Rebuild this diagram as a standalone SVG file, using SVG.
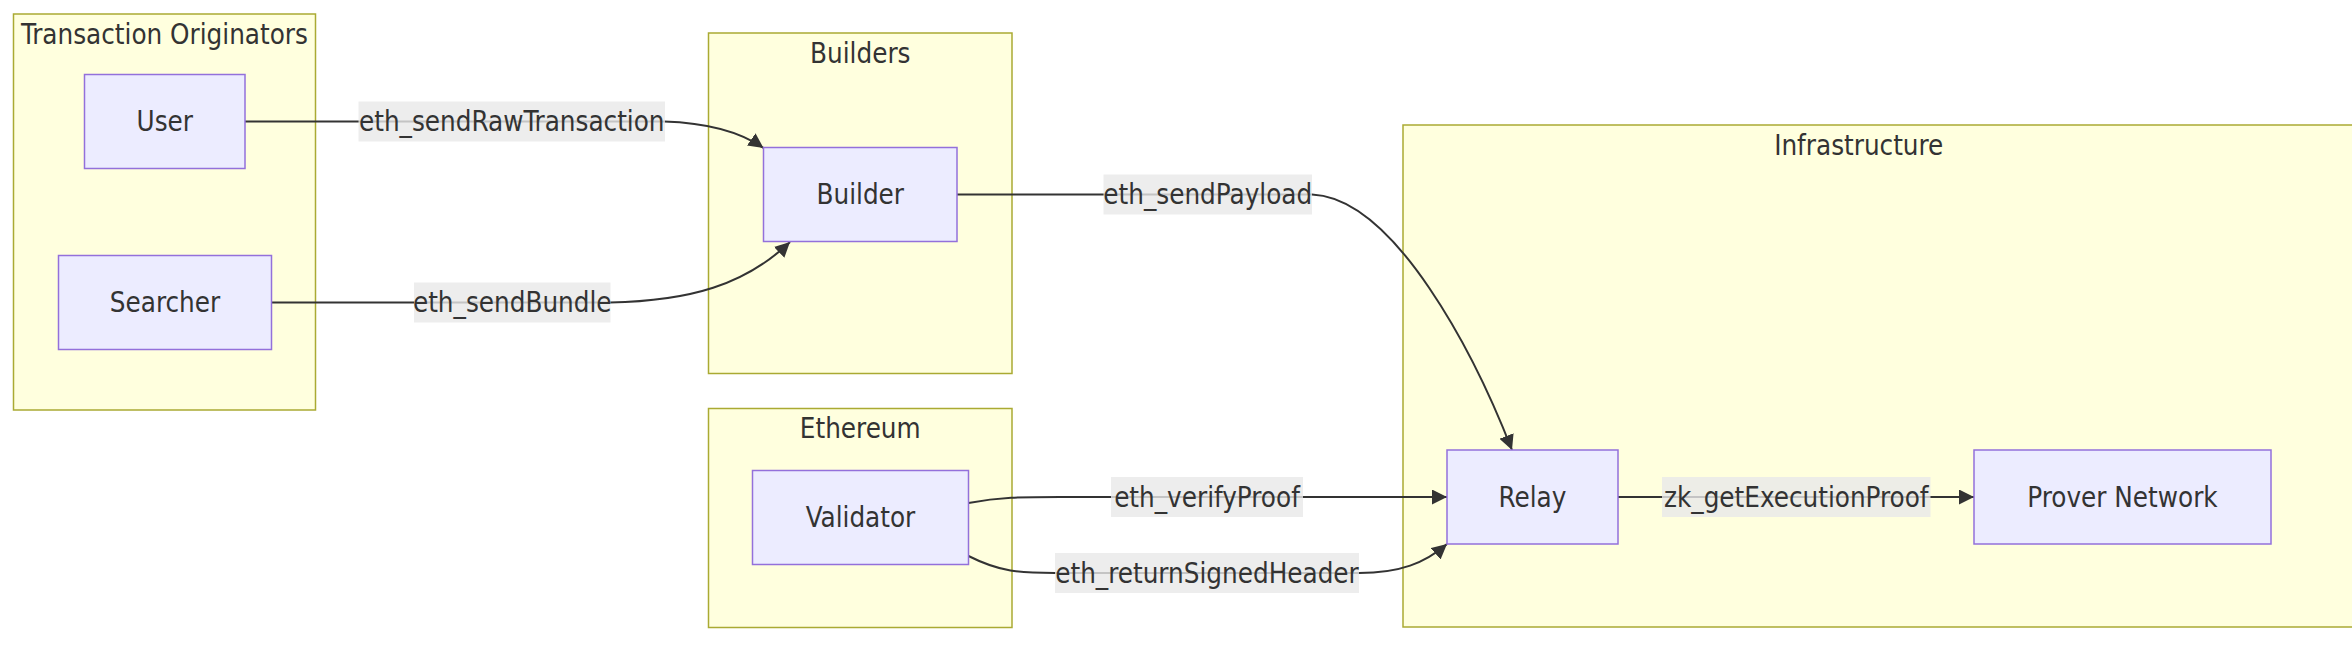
<svg xmlns="http://www.w3.org/2000/svg" width="2352" height="648" viewBox="0 0 2352 648">
<defs>
<style>
.cl{fill:#ffffde;stroke:#aaaa33;stroke-width:1.5}
.nd{fill:#ececff;stroke:#9370db;stroke-width:1.5}
.t{font-family:"DejaVu Sans Condensed","DejaVu Sans",sans-serif;font-stretch:condensed;font-size:27.5px;fill:#333333;text-anchor:middle}
.e{fill:none;stroke:#333333;stroke-width:2}
.lb{fill:#e8e8e8;fill-opacity:0.8}
</style>
<marker id="arr" viewBox="0 0 10 10" refX="10" refY="5" markerUnits="userSpaceOnUse" markerWidth="15" markerHeight="15" orient="auto">
<path d="M0,0 L10,5 L0,10 z" fill="#333333"/>
</marker>
</defs>
<rect width="2352" height="648" fill="#ffffff"/>
<g id="clusters">
<g id="cluster-originators">
<rect class="cl" x="13.5" y="14" width="302" height="396"/>
<text class="t" x="164.5" y="43.5">Transaction Originators</text>
</g>
<g id="cluster-builders">
<rect class="cl" x="708.5" y="33" width="303.5" height="340.5"/>
<text class="t" x="860.25" y="62.5">Builders</text>
</g>
<g id="cluster-ethereum">
<rect class="cl" x="708.5" y="408.5" width="303.5" height="219"/>
<text class="t" x="860.25" y="438">Ethereum</text>
</g>
<g id="cluster-infrastructure">
<rect class="cl" x="1403" y="125" width="1311.5" height="502"/>
<text class="t" x="1858.75" y="154.5">Infrastructure</text>
</g>
</g>
<g id="edges">
<path class="e" d="M244.5,121.5 L664,121.5 C712,123 742,133 763.5,148" marker-end="url(#arr)"/>
<path class="e" d="M271.5,302.5 L610,302.5 C690,301 745,285 790,242" marker-end="url(#arr)"/>
<path class="e" d="M957,194.5 L1312,194.5 C1395,198 1475,355 1512,450" marker-end="url(#arr)"/>
<path class="e" d="M968.5,503 C1000,497 1020,497 1060,497 L1447,497" marker-end="url(#arr)"/>
<path class="e" d="M968.5,556 C1000,572 1020,573 1055,573 L1359,573 C1400,573 1425,563 1447,544" marker-end="url(#arr)"/>
<path class="e" d="M1618,497 L1974,497" marker-end="url(#arr)"/>
</g>
<g id="edge-labels">
<g id="label-sendRaw"><rect class="lb" x="358.5" y="101.5" width="306.5" height="40"/><text class="t" x="511.75" y="131">eth_sendRawTransaction</text></g>
<g id="label-sendBundle"><rect class="lb" x="414" y="282.5" width="196.5" height="40"/><text class="t" x="512.25" y="312">eth_sendBundle</text></g>
<g id="label-sendPayload"><rect class="lb" x="1103.5" y="174.5" width="208.5" height="40"/><text class="t" x="1207.75" y="204">eth_sendPayload</text></g>
<g id="label-verifyProof"><rect class="lb" x="1111" y="477" width="192" height="40"/><text class="t" x="1207" y="506.5">eth_verifyProof</text></g>
<g id="label-returnSigned"><rect class="lb" x="1055" y="553" width="304" height="40"/><text class="t" x="1207" y="582.5">eth_returnSignedHeader</text></g>
<g id="label-zk"><rect class="lb" x="1662" y="477" width="268.5" height="40"/><text class="t" x="1796.25" y="506.5">zk_getExecutionProof</text></g>
</g>
<g id="node-user"><rect class="nd" x="84.5" y="74.5" width="160.5" height="94"/><text class="t" x="164.75" y="131">User</text></g>
<g id="node-searcher"><rect class="nd" x="58.5" y="255.5" width="213" height="94"/><text class="t" x="165" y="312">Searcher</text></g>
<g id="node-builder"><rect class="nd" x="763.5" y="147.5" width="193.5" height="94"/><text class="t" x="860.25" y="204">Builder</text></g>
<g id="node-validator"><rect class="nd" x="752.5" y="470.5" width="216" height="94"/><text class="t" x="860.5" y="527">Validator</text></g>
<g id="node-relay"><rect class="nd" x="1447" y="450" width="171" height="94"/><text class="t" x="1532.5" y="506.5">Relay</text></g>
<g id="node-prover"><rect class="nd" x="1974" y="450" width="297" height="94"/><text class="t" x="2122.5" y="506.5">Prover Network</text></g>
</svg>
